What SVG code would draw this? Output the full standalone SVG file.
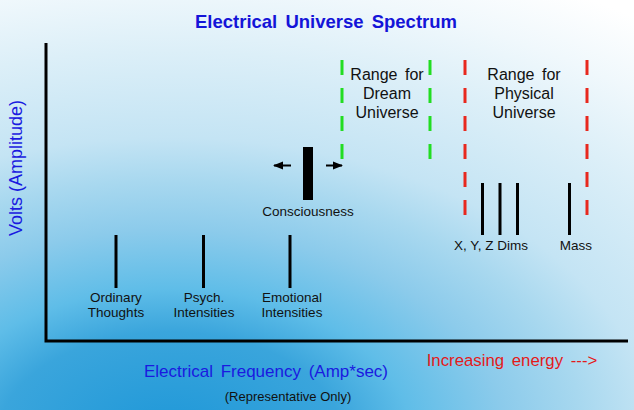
<svg xmlns="http://www.w3.org/2000/svg" width="634" height="410" viewBox="0 0 634 410">
<defs>
<radialGradient id="bg" gradientUnits="userSpaceOnUse" cx="170" cy="440" r="540" gradientTransform="translate(170,440) scale(1.6,1) translate(-170,-440)">
<stop offset="0" stop-color="#1d97d8"/>
<stop offset="0.2" stop-color="#3aa5dc"/>
<stop offset="0.28" stop-color="#5fbde8"/>
<stop offset="0.39" stop-color="#8ccbeb"/>
<stop offset="0.48" stop-color="#a8d8ef"/>
<stop offset="0.56" stop-color="#c4e4f4"/>
<stop offset="0.72" stop-color="#dceff8"/>
<stop offset="0.84" stop-color="#f0f8fc"/>
<stop offset="0.95" stop-color="#ffffff"/>
</radialGradient>
<marker id="ah" viewBox="0 0 10 10" refX="9" refY="5" markerWidth="5" markerHeight="5" orient="auto-start-reverse" markerUnits="strokeWidth">
<path d="M0,1 L10,5 L0,9 Z" fill="#000"/>
</marker>
<style>
text{font-family:"Liberation Sans",Arial,sans-serif;}
.lbl{font-size:13.5px;fill:#111;text-anchor:middle;}
.rng{font-size:16px;fill:#111;text-anchor:middle;word-spacing:3px;}
.tick{stroke:#000;stroke-width:3;}
.gd{stroke:#22dd22;stroke-width:3;stroke-dasharray:15 13;fill:none;}
.rd{stroke:#e8281e;stroke-width:3;stroke-dasharray:15 13;fill:none;}
.axis{stroke:#000;stroke-width:3;fill:none;}
</style>
</defs>
<rect width="634" height="410" fill="url(#bg)"/>
<text x="326" y="28" font-size="18.5" font-weight="bold" fill="#1414d8" text-anchor="middle" word-spacing="3">Electrical Universe Spectrum</text>
<g id="axes">
<path class="axis" d="M46,43 L46,341 L628,341"/>
</g>
<text transform="translate(22,168) rotate(-90)" font-size="18" fill="#1a1ae0" text-anchor="middle">Volts (Amplitude)</text>
<text x="266" y="377" font-size="17" fill="#1a1ae0" text-anchor="middle" word-spacing="3">Electrical Frequency (Amp*sec)</text>
<text x="288" y="401" font-size="13" fill="#111" text-anchor="middle">(Representative Only)</text>
<text x="512" y="366" font-size="16.8" fill="#e41a1a" text-anchor="middle" word-spacing="3">Increasing energy ---&gt;</text>
<g id="connectors">
<line class="gd" x1="342" y1="60" x2="342" y2="160"/>
<line class="gd" x1="430" y1="60" x2="430" y2="160"/>
<line class="rd" x1="465" y1="60" x2="465" y2="216"/>
<line class="rd" x1="587" y1="60" x2="587" y2="216"/>
<line x1="291" y1="165.5" x2="274" y2="165.5" stroke="#000" stroke-width="2" marker-end="url(#ah)"/>
<line x1="326" y1="165.5" x2="342" y2="165.5" stroke="#000" stroke-width="2" marker-end="url(#ah)"/>
</g>
<g id="dream">
<text class="rng" x="387" y="80">Range for</text>
<text class="rng" x="387" y="99">Dream</text>
<text class="rng" x="387" y="118">Universe</text>
</g>
<g id="physical">
<text class="rng" x="524" y="80">Range for</text>
<text class="rng" x="524" y="99">Physical</text>
<text class="rng" x="524" y="118">Universe</text>
</g>
<g id="consciousness">
<rect x="303" y="147" width="10" height="53" fill="#000"/>
<text class="lbl" x="308" y="216">Consciousness</text>
</g>
<g id="ordinary">
<line class="tick" x1="116" y1="235" x2="116" y2="288"/>
<text class="lbl" x="116" y="302">Ordinary</text>
<text class="lbl" x="116" y="317">Thoughts</text>
</g>
<g id="psych">
<line class="tick" x1="203.5" y1="235" x2="203.5" y2="288"/>
<text class="lbl" x="204" y="302">Psych.</text>
<text class="lbl" x="204" y="317">Intensities</text>
</g>
<g id="emotional">
<line class="tick" x1="290" y1="235" x2="290" y2="288"/>
<text class="lbl" x="292" y="302">Emotional</text>
<text class="lbl" x="292" y="317">Intensities</text>
</g>
<g id="xyz">
<line class="tick" x1="482.5" y1="183" x2="482.5" y2="235"/>
<line class="tick" x1="500" y1="183" x2="500" y2="235"/>
<line class="tick" x1="517.5" y1="183" x2="517.5" y2="235"/>
<text class="lbl" x="491" y="250">X, Y, Z Dims</text>
</g>
<g id="mass">
<line class="tick" x1="569.5" y1="183" x2="569.5" y2="235"/>
<text class="lbl" x="576" y="250">Mass</text>
</g>
</svg>
